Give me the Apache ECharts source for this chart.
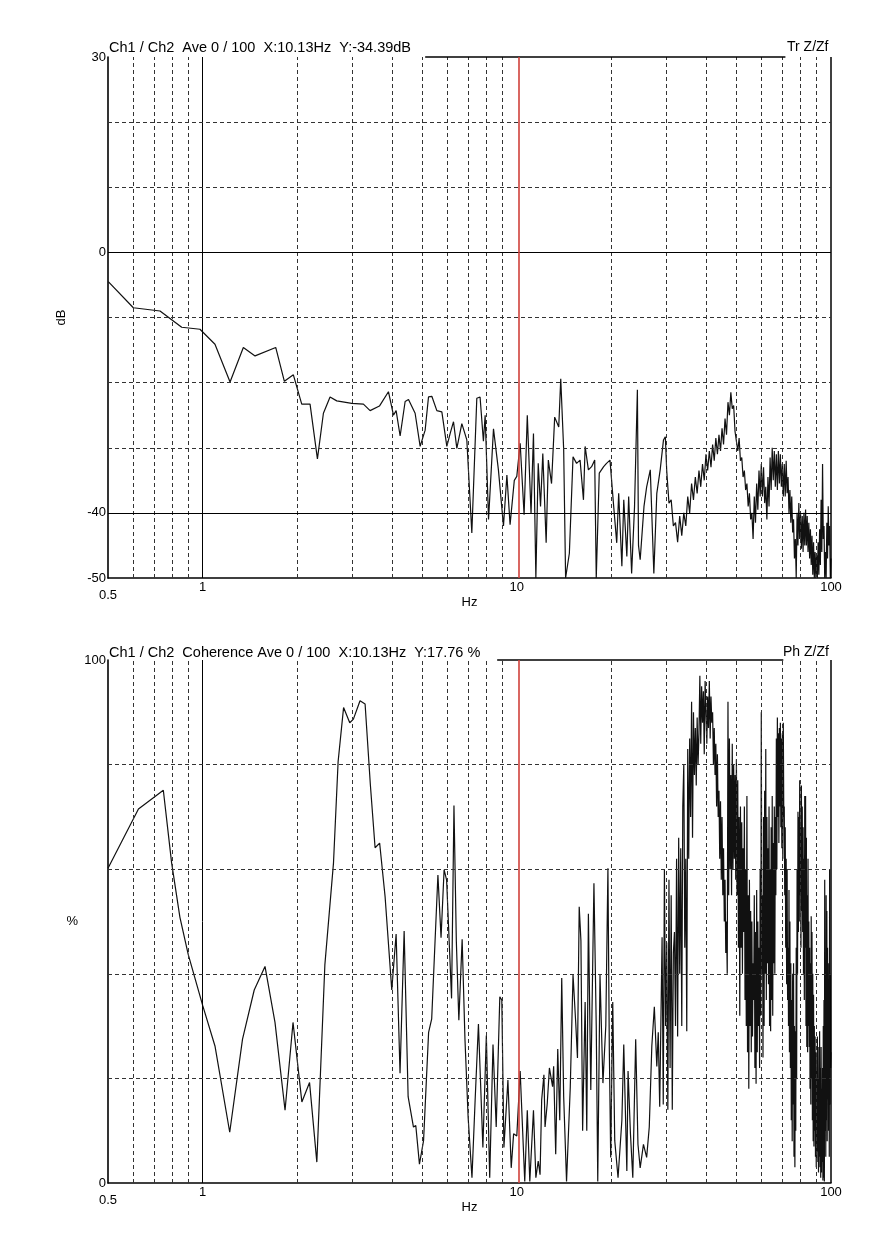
<!DOCTYPE html>
<html><head><meta charset="utf-8">
<script src="https://cdn.jsdelivr.net/npm/echarts@6/dist/echarts.min.js"></script>
<style>html,body{margin:0;padding:0;background:#fff}#c{width:874px;height:1234px}</style>
</head><body><div id="c"></div>
<script>
// ---------- Top panel: transfer function (dB) ----------
const topFreq = [0.501,0.602,0.732,0.858,0.981,1.095,1.223,1.348,1.469,1.709,1.821,1.945,2.068,2.198,2.320,2.424,2.545,2.673,2.984,3.250,3.413,3.654,3.904,4.050,4.130,4.253,4.412,4.522,4.747,4.925,5.109,5.236,5.365,5.566,5.774,5.989,6.138,6.289,6.444,6.685,6.934,7.193,7.46,7.64,7.83,7.93,8.13,8.43,8.74,9.07,9.30,9.52,9.82,10.0,
10.25,10.55,10.8,11.1,11.3,11.5,11.7,11.9,12.1,12.4,12.6,12.9,13.2,13.6,13.8,14.1,14.3,14.7,15.1,15.5,15.9,16.3,16.5,16.9,17.3,17.7,17.9,18.3,18.9,19.3,19.8,20.3,20.8,21.1,21.6,21.9,22.4,22.7,23.2,23.7,24.2,24.4,24.7,25.4,25.9,26.6,27.3,27.9,28.6,29.3,29.7];
const topDb = [-4.5,-8.5,-9.0,-11.5,-11.8,-14.1,-19.9,-14.6,-15.9,-14.6,-19.8,-18.8,-23.3,-23.3,-31.7,-24.7,-22.2,-22.8,-23.2,-23.3,-24.3,-23.6,-21.4,-25.0,-24.3,-28.2,-22.9,-22.6,-24.7,-29.8,-27.3,-22.2,-22.1,-24.3,-24.5,-29.8,-27.8,-26.0,-30.1,-26.3,-28.8,-43.1,-22.4,-22.2,-29.0,-25.0,-41.0,-27.1,-33.4,-42.0,-34.2,-41.8,-35.0,-34.4,
-29.3,-40.3,-25.0,-40.1,-27.8,-50,-32.4,-39.0,-30.9,-44.6,-31.9,-35.5,-25.3,-26.8,-19.4,-30.3,-50,-46.2,-31.4,-32.4,-31.9,-38.0,-29.8,-33.4,-32.9,-31.9,-50,-33.9,-32.9,-32.4,-31.9,-38.5,-44.6,-37.0,-48.2,-38.0,-46.7,-37.5,-49.3,-39.0,-21.1,-45.0,-47.2,-39.0,-36.0,-33.4,-49.3,-37.0,-33.4,-28.8,-28.3];
// dense part, bins of 0.5 Hz from 30 Hz
const topHiStart = 30, topHiStep = 0.5;
const topDbHi = [-33.5,-38.5,-38,-42,-41.5,-44.5,-40.5,-43.5,-40,-42,-37.5,-40,-35.5,-38,-34.5,-37,-33.5,-36,-32.5,-35,
-31,-33.5,-30.5,-33,-29.5,-32,-28.5,-31,-28,-30.5,-27,-29.5,-25.5,-28,-23,-25,-21.5,-24,-23.5,-27.5,
-27.5,-30.5,-28.5,-32,-31.5,-34.5,-33.5,-36.5,-35.5,-39,-37,-41,-40,-44,-37.5,-41.5,-35.5,-39.5,-33.5,-37.5,
-32.5,-37.5,-33,-38.5,-36,-41,-34.5,-39,-31.5,-36.5,-30,-35,-30.5,-36,-31,-36.5,-30.5,-35.5,-31,-36,
-32.5,-37.5,-32.5,-37.5,-32,-37,-34.5,-40,-36.5,-41.5,-37.5,-43,-41,-47,-44,-50,-40,-45,-38.5,-44,
-40,-45.5,-40.5,-46,-40,-45,-39.5,-45,-40.5,-46,-41.5,-47,-42.5,-48,-43.5,-49.5,-44.5,-50,-46,-50,
-46.5,-50,-44.5,-49.5,-42.5,-48,-38,-46,-32.5,-44,-42,-50,-46,-50,-41.5,-47,-39,-45,-42,-50,-47];

// ---------- Bottom panel: coherence (%) ----------
const cohFreq = [0.5,0.625,0.75,0.797,0.847,0.90,1.0,1.095,1.22,1.34,1.46,1.58,1.70,1.83,1.94,2.07,2.19,2.31,2.45,2.61,2.70,2.81,2.94,3.02,3.17,3.29,3.42,3.54,3.66,3.81,4.0,4.13,4.25,4.38,4.51,4.69,4.77,4.9,5.05,5.24,5.36,5.61,5.74,5.87,5.98,6.2,6.31,6.42,6.54,6.7,6.84,7.0,7.2,7.37,7.55,7.8,8.0,8.2,8.4,8.6,8.83,8.96,9.1,9.37,9.6,9.77,10.0,10.25,
10.6,10.8,11.0,11.3,11.5,11.7,11.86,12.0,12.2,12.3,12.5,12.7,13.0,13.1,13.3,13.5,13.7,13.9,14.1,14.4,14.8,15.1,15.4,15.6,15.8,16.0,16.2,16.5,16.7,16.9,17.2,17.6,17.9,18.1,18.4,18.8,19.2,19.5,19.7,19.9,20.2,20.5,21.0,21.6,21.9,22.4,22.6,23.0,23.4,23.9,24.3,24.7,25.3,25.9,26.4,26.9,27.4,27.9,28.2,28.5];
const cohPct = [60.2,71.5,75.1,61.2,50.8,43.7,34.0,26.2,9.7,27.5,36.9,41.4,30.7,13.9,30.7,15.5,19.2,4.0,41.7,61.2,80.6,90.9,88.0,88.7,92.2,91.6,76.1,64.1,65.0,54.7,36.9,47.6,21.0,48.2,16.5,10.7,11.0,3.6,8.1,28.8,31.4,58.9,46.9,59.9,57.9,35.3,72.2,46.3,31.1,46.6,27.5,12.6,1.0,15.9,30.4,6.8,28.2,1.0,26.5,10.7,35.6,35.0,6.8,19.7,2.9,9.4,9.0,21.4,
0.3,13.9,0.3,13.9,1.0,4.2,1.6,15.9,20.7,10.7,15.2,22.0,18.4,22.3,5.5,25.6,12.0,39.2,16.5,0.3,18.4,39.8,30.7,23.9,52.8,46.3,10.0,34.6,10.0,51.5,17.8,57.3,30.1,0.3,39.8,19.1,30.1,60.2,25.6,4.9,34.6,8.1,1.0,12.0,26.5,2.3,21.4,9.4,1.0,27.5,7.4,2.9,7.4,4.9,10.7,26.2,33.7,22.3,28.8,14.6];
// dense part, bins of 0.25 Hz from 29 Hz to 100 Hz
const cohHiStart = 29, cohHiStep = 0.25;
const cohPctHi = [
47,15,60,30, 46,14,58,22, 55,14,44,48, 30,62,28,66, 40,64,30,72, 80,45,62,29,
83,62,85,70, 92,66,90,78, 87,76,89,80, 86,97,84,95, 88,94,82,96, 90,84,93,87,
96,85,93,88, 90,80,87,78, 84,72,82,70, 75,62,73,58, 70,55,64,50, 58,44,50,40,
92,55,85,60, 78,55,84,60, 80,62,78,58, 81,55,77,45, 70,32,72,45, 69,40,64,48,
72,35,60,30, 74,25,55,18, 58,30,52,25, 50,28,42,35, 55,22,48,19, 56,25,50,30,
45,22,60,32, 90,40,55,24, 70,30,75,40, 83,35,70,42, 64,38,72,30, 60,29,68,35,
74,32,65,42, 72,40,70,55, 85,60,89,70, 86,65,87,72, 88,68,85,64, 86,62,88,70,
72,55,68,45, 62,38,60,35, 45,30,56,25, 50,22,42,12, 35,8,40,15, 42,5,30,3,
29,10,45,20, 60,40,71,48, 70,50,77,55, 68,45,76,52, 72,48,68,40, 62,35,74,45,
74,30,66,26, 55,25,62,30, 50,26,45,18, 42,15,51,20, 48,12,40,8, 36,7,30,10,
28,5,25,3, 22,4,28,6, 20,2,26,5, 29,3,22,1, 26,2,18,4, 22,0.5,30,1,
35,0.3,58,10, 40,5,55,12, 52,8,45,16, 42,10,35,5, 60,15,40,22, 25];

// ---------- Axis / grid decorations ----------
const minorHz = [0.6,0.7,0.8,0.9,2,3,4,5,6,7,8,9,20,30,40,50,60,70,80,90];
const majorHz = [1];
const cursorHz = 10.13;
const topDashDb = [20,10,-10,-20,-30];
const topSolidDb = [0,-40];
const topLabelsDb = [30,0,-40,-50];
const botDashPct = [80,60,40,20];
const botLabelsPct = [100,0];
const topTitle = 'Ch1 / Ch2  Ave 0 / 100  X:10.13Hz  Y:-34.39dB';
const botTitle = 'Ch1 / Ch2  Coherence Ave 0 / 100  X:10.13Hz  Y:17.76 %';
const topTag = 'Tr Z/Zf';
const botTag = 'Ph Z/Zf';

const FONT = '"Liberation Sans", Arial, sans-serif';
const topData = topFreq.map((f,i)=>[f, topDb[i]]).concat(topDbHi.map((v,i)=>[topHiStart + i*topHiStep, v]));
const botData = cohFreq.map((f,i)=>[f, cohPct[i]]).concat(cohPctHi.map((v,i)=>[cohHiStart + i*cohHiStep, v]));

const dash = {color:'#333', width:1, type:[4,3]};
const solid = {color:'#000', width:1, type:'solid'};

function xAxisCfg(gi){
  return {
    type:'log', logBase:10, min:0.5, max:100, gridIndex:gi,
    axisLine:{show:true, onZero:false, lineStyle:{color:'#000', width:1.5}},
    axisTick:{show:false}, splitLine:{show:false}, minorTick:{show:false},
    axisLabel:{color:'#000', fontSize:13, fontFamily:FONT, margin:3, showMinLabel:true, showMaxLabel:true,
      formatter:(v)=> v < 0.9 ? '{low|0.5}' : String(Math.round(v)),
      rich:{low:{fontSize:13, fontFamily:FONT, color:'#000', padding:[8,0,0,0]}}},
    name:'Hz', nameLocation:'middle', nameGap:18, nameMoveOverlap:false,
    nameTextStyle:{color:'#000', fontSize:13, fontFamily:FONT}
  };
}
function yAxisCfg(gi, min, max, interval, labels, name, rot, gap){
  return {
    type:'value', min:min, max:max, interval:interval, gridIndex:gi,
    axisLine:{show:true, onZero:false, lineStyle:{color:'#000', width:1.6}},
    axisTick:{show:false}, splitLine:{show:false},
    axisLabel:{color:'#000', fontSize:13, fontFamily:FONT, margin:2, showMinLabel:true, showMaxLabel:true,
      formatter:(v)=> labels.indexOf(v) >= 0 ? String(v) : ''},
    name:name, nameLocation:'middle', nameRotate:rot, nameGap:gap, nameMoveOverlap:false,
    nameTextStyle:{color:'#000', fontSize:13, fontFamily:FONT}
  };
}
function gridSeries(gi, ymax, hDash, hSolid, topLineFrom, topLineTo){
  const d = [];
  minorHz.forEach(v=>d.push({xAxis:v, lineStyle:dash}));
  majorHz.forEach(v=>d.push({xAxis:v, lineStyle:solid}));
  d.push({xAxis:100, lineStyle:{color:'#000', width:1.5, type:'solid'}});
  hDash.forEach(v=>d.push({yAxis:v, lineStyle:dash}));
  hSolid.forEach(v=>d.push({yAxis:v, lineStyle:solid}));
  d.push([{coord:[topLineFrom, ymax]},{coord:[topLineTo, ymax]}]);
  d[d.length-1][0].lineStyle = {color:'#000', width:1.5, type:'solid'};
  return {
    type:'line', xAxisIndex:gi, yAxisIndex:gi, data:[], silent:true, z:1,
    markLine:{silent:true, symbol:['none','none'], animation:false, label:{show:false},
      emphasis:{disabled:true}, data:d}
  };
}
function cursorSeries(gi){
  return {type:'line', xAxisIndex:gi, yAxisIndex:gi, data:[], silent:true, z:5,
    markLine:{silent:true, symbol:['none','none'], animation:false, label:{show:false}, emphasis:{disabled:true},
      data:[{xAxis:cursorHz, lineStyle:{color:'#d0403a', width:1.6, type:'solid'}}]}};
}

const option = {
  animation:false,
  backgroundColor:'#fff',
  grid:[
    {left:108, right:43, top:57, height:521},
    {left:108, right:43, top:660, height:523}
  ],
  xAxis:[xAxisCfg(0), xAxisCfg(1)],
  yAxis:[
    yAxisCfg(0, -50, 30, 10, topLabelsDb, 'dB', 90, 40),
    yAxisCfg(1, 0, 100, 20, botLabelsPct, '%', 0, 30)
  ],
  graphic:[
    {type:'text', left:109, top:40, style:{text:topTitle, fontSize:14.5, fontFamily:FONT, fill:'#000'}},
    {type:'text', left:787, top:40, style:{text:topTag, fontSize:14, fontFamily:FONT, fill:'#000'}},
    {type:'text', left:109, top:645, style:{text:botTitle, fontSize:14.5, fontFamily:FONT, fill:'#000'}},
    {type:'text', left:783, top:645, style:{text:botTag, fontSize:14, fontFamily:FONT, fill:'#000'}}
  ],
  series:[
    gridSeries(0, 30, topDashDb, topSolidDb, 5.11, 71.6),
    gridSeries(1, 100, botDashPct, [], 8.66, 70.5),
    {type:'line', xAxisIndex:0, yAxisIndex:0, data:topData, showSymbol:false, z:3, clip:true,
      lineStyle:{color:'#111', width:1.2}, silent:true},
    {type:'line', xAxisIndex:1, yAxisIndex:1, data:botData, showSymbol:false, z:3, clip:true,
      lineStyle:{color:'#111', width:1.2}, silent:true},
    cursorSeries(0), cursorSeries(1)
  ]
};
const chart = echarts.init(document.getElementById('c'));
chart.setOption(option);
</script></body></html>
